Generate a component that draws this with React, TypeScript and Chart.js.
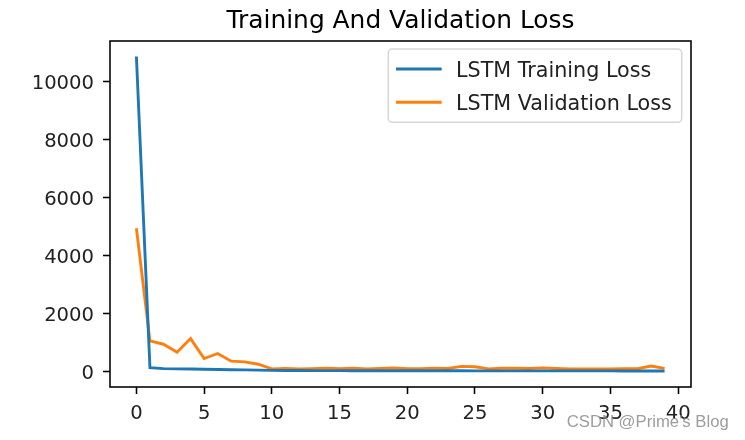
import React, { useEffect, useRef } from "react";
import { Chart, registerables } from "chart.js";

Chart.register(...registerables);

const epochs = Array.from({ length: 40 }, (_, i) => i);
const trainLoss = [10870, 140, 110, 100, 95, 88, 80, 72, 64, 56, 48, 44, 42, 40, 39, 38, 37, 36, 35, 35, 34, 34, 33, 33, 33, 32, 32, 32, 31, 31, 31, 30, 30, 30, 30, 30, 29, 29, 29, 29];
const valLoss = [4950, 1065, 950, 675, 1145, 455, 630, 365, 340, 260, 100, 115, 100, 110, 125, 110, 120, 100, 115, 130, 105, 110, 125, 115, 185, 175, 100, 120, 120, 115, 135, 115, 95, 100, 100, 100, 110, 105, 200, 115];
const yTicks = [0, 2000, 4000, 6000, 8000, 10000];
const xTicks = [0, 5, 10, 15, 20, 25, 30, 35, 40];
const seriesNames = ["LSTM Training Loss", "LSTM Validation Loss"];
const seriesColors = ["#1f77b4", "#ff7f0e"];
const titleText = "Training And Validation Loss";
const watermark = "CSDN @Prime's Blog";

const FONT = "'DejaVu Sans', sans-serif";

const decorPlugin = {
  id: "decor",
  afterDraw(chart: any) {
    const ctx = chart.ctx;
    const a = chart.chartArea;
    ctx.save();
    // frame
    ctx.strokeStyle = "#000";
    ctx.lineWidth = 1.56;
    ctx.strokeRect(a.left, a.top, a.right - a.left, a.bottom - a.top);
    // title
    ctx.fillStyle = "#000";
    ctx.font = `24.9px ${FONT}`;
    ctx.textAlign = "center";
    ctx.textBaseline = "alphabetic";
    ctx.fillText(titleText, (a.left + a.right) / 2, 28);
    // legend
    const lx = 388.3, ly = 49, lw = 293.4, lh = 73.3, r = 4;
    ctx.beginPath();
    ctx.moveTo(lx + r, ly);
    ctx.lineTo(lx + lw - r, ly);
    ctx.arcTo(lx + lw, ly, lx + lw, ly + r, r);
    ctx.lineTo(lx + lw, ly + lh - r);
    ctx.arcTo(lx + lw, ly + lh, lx + lw - r, ly + lh, r);
    ctx.lineTo(lx + r, ly + lh);
    ctx.arcTo(lx, ly + lh, lx, ly + lh - r, r);
    ctx.lineTo(lx, ly + r);
    ctx.arcTo(lx, ly, lx + r, ly, r);
    ctx.closePath();
    ctx.fillStyle = "rgba(255,255,255,0.8)";
    ctx.fill();
    ctx.strokeStyle = "#d6d6d6";
    ctx.lineWidth = 1.5;
    ctx.stroke();
    const rows = [69, 102.3];
    const baselines = [77, 110.3];
    ctx.font = `20.7px ${FONT}`;
    ctx.textAlign = "left";
    seriesNames.forEach((n, i) => {
      ctx.strokeStyle = seriesColors[i];
      ctx.lineWidth = 2.9;
      ctx.beginPath();
      ctx.moveTo(396, rows[i]);
      ctx.lineTo(441.7, rows[i]);
      ctx.stroke();
      ctx.fillStyle = "#222";
      ctx.fillText(n, 456, baselines[i]);
    });
    // watermark
    ctx.font = "16.7px 'Liberation Sans', Arial, sans-serif";
    ctx.fillStyle = "rgba(140,140,140,0.85)";
    ctx.fillText(watermark, 566.7, 427.3);
    ctx.restore();
  },
};

export default function App() {
  const ref = useRef<HTMLCanvasElement>(null);
  useEffect(() => {
    if (!ref.current) return;
    const chart = new Chart(ref.current, {
      type: "line",
      data: {
        datasets: [
          {
            label: seriesNames[0],
            data: epochs.map((e, i) => ({ x: e, y: trainLoss[i] })),
            borderColor: seriesColors[0],
            backgroundColor: seriesColors[0],
            borderWidth: 2.9,
            pointRadius: 0,
            tension: 0,
          },
          {
            label: seriesNames[1],
            data: epochs.map((e, i) => ({ x: e, y: valLoss[i] })),
            borderColor: seriesColors[1],
            backgroundColor: seriesColors[1],
            borderWidth: 2.9,
            pointRadius: 0,
            tension: 0,
          },
        ],
      },
      options: {
        animation: false,
        responsive: false,
        devicePixelRatio: 1,
        layout: { padding: { top: 41, right: 54, left: 0, bottom: 0 } },
        plugins: {
          legend: { display: false },
          title: { display: false },
          tooltip: { enabled: false },
        },
        scales: {
          x: {
            type: "linear",
            min: -1.95,
            max: 40.95,
            afterFit: (s: any) => {
              s.height = 53;
            },
            afterBuildTicks: (s: any) => {
              s.ticks = xTicks.map((v) => ({ value: v }));
            },
            grid: {
              display: true,
              drawOnChartArea: false,
              drawTicks: true,
              tickLength: 7,
              tickWidth: 1.56,
              tickColor: "#000",
            },
            border: { display: false },
            ticks: {
              font: { family: FONT, size: 19.6 },
              color: "#222",
              padding: 8,
              maxRotation: 0,
              autoSkip: false,
            },
          },
          y: {
            type: "linear",
            min: -525,
            max: 11405,
            afterFit: (s: any) => {
              s.width = 110;
            },
            afterBuildTicks: (s: any) => {
              s.ticks = yTicks.map((v) => ({ value: v }));
            },
            grid: {
              display: true,
              drawOnChartArea: false,
              drawTicks: true,
              tickLength: 7,
              tickWidth: 1.56,
              tickColor: "#000",
            },
            border: { display: false },
            ticks: {
              font: { family: FONT, size: 19.6 },
              color: "#222",
              padding: 9,
              labelOffset: 2,
              autoSkip: false,
              callback: (v: any) => String(v),
            },
          },
        },
      },
      plugins: [decorPlugin],
    });
    return () => chart.destroy();
  }, []);
  return (
    <div style={{ position: "absolute", left: 0, top: 0, width: 745, height: 440, background: "#fff" }}>
      <canvas ref={ref} width={745} height={440} style={{ display: "block" }} />
    </div>
  );
}
